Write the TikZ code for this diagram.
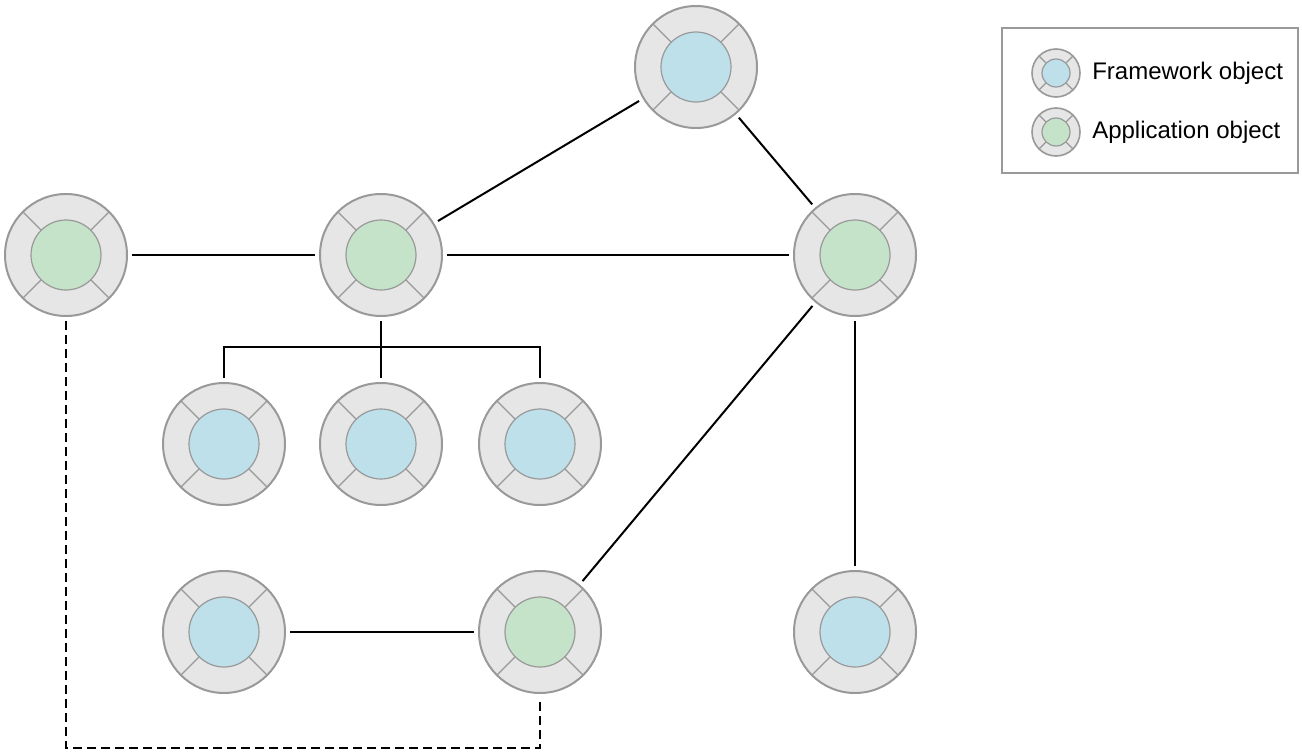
\documentclass[tikz,border=0pt]{standalone}
\usepackage{fontspec}
\setmainfont{Liberation Sans}
\usetikzlibrary{positioning}

\definecolor{ringfill}{HTML}{E6E6E6}
\definecolor{ringgray}{HTML}{999999}
\definecolor{fwblue}{HTML}{BDE0EA}
\definecolor{appgreen}{HTML}{C4E3C8}

\tikzset{
  ring/.style n args={3}{circle,draw=ringgray,line width=1.5pt,fill=ringfill,
    minimum size=2*#2,inner sep=0pt,outer sep=4pt,
    path picture={
      \foreach \a in {45,135,225,315}
        \draw[ringgray,line width=1pt] (path picture bounding box.center) ++(\a:#3) -- ++(\a:#2-#3);
      \draw[ringgray,line width=0.9pt,fill=#1] (path picture bounding box.center) circle (#3);
    }},
  obj/.style={ring={#1}{45.75pt}{26.25pt}},
  legendobj/.style={ring={#1}{18pt}{10.5pt},line width=1.2pt,outer sep=0pt},
  link/.style={line width=1.5pt},
  dashlink/.style={line width=1.5pt,dash pattern=on 6.5pt off 4pt},
}

\begin{document}
\begin{tikzpicture}[x=0.75pt,y=-0.75pt]
\useasboundingbox (0,0) rectangle (1302,753);
% objects
\node[obj=fwblue] (top) at (696,67) {};
\node[obj=appgreen] (appl) at (66,255) {};
\node[obj=appgreen] (appm) at (381,255) {};
\node[obj=appgreen] (appr) at (855,255) {};
\node[obj=fwblue] (fw1) at (224,444) {};
\node[obj=fwblue] (fw2) at (381,444) {};
\node[obj=fwblue] (fw3) at (540,444) {};
\node[obj=fwblue] (fw4) at (224,632) {};
\node[obj=appgreen] (appb) at (540,632) {};
\node[obj=fwblue] (fw5) at (855,632) {};
% connections
\draw[link] (top) -- (appm);
\draw[link] (top) -- (appr);
\draw[link] (appl) -- (appm);
\draw[link] (appm) -- (appr);
\draw[link] (appr) -- (appb);
\draw[link] (appr) -- (fw5);
\draw[link] (fw4) -- (appb);
\coordinate (bus) at (381,347);
\draw[link] (appm) -- (bus);
\draw[link] (fw1) |- (bus) -| (fw3);
\draw[link] (bus) -- (fw2);
\coordinate (dl) at (66,748);
\draw[dashlink] (appl) -- (appl |- dl) -| (appb);
% legend
\node[draw=ringgray,line width=1pt,minimum width=222pt,minimum height=108.75pt,inner sep=0pt] (legend) at (1150,100.5) {};
\node[legendobj=fwblue] (legfw) at (1056,73) {};
\node[legendobj=appgreen] (legapp) at (1056,132) {};
\node[anchor=west,inner sep=0pt,font=\fontsize{18}{22}\selectfont] (legfwtext) at (1092,73) {Framework object};
\node[anchor=west,inner sep=0pt,font=\fontsize{18}{22}\selectfont] (legapptext) at (1092,132) {Application object};
\end{tikzpicture}
\end{document}
